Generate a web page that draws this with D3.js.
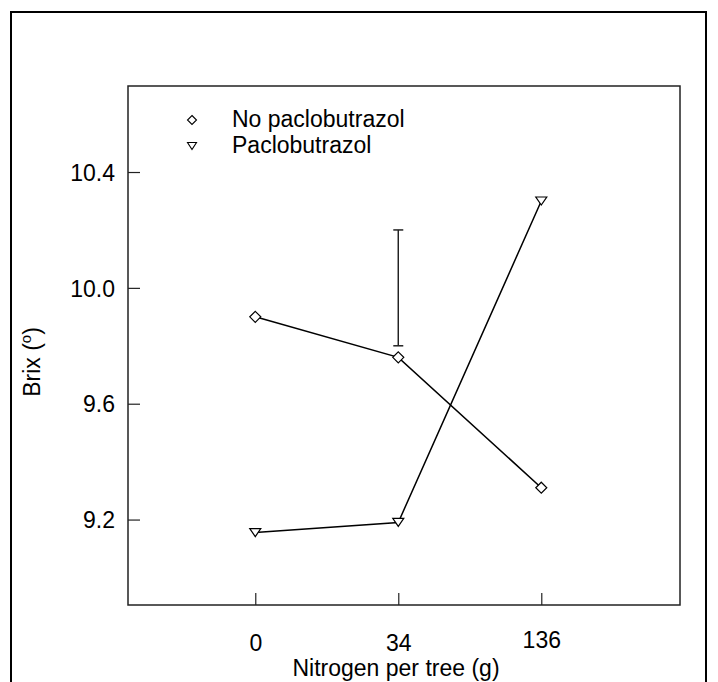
<!DOCTYPE html>
<html>
<head>
<meta charset="utf-8">
<script src="https://cdn.jsdelivr.net/npm/d3@7"></script>
<style>
  body { margin: 0; background: #fff; }
  svg { display: block; }
  text { font-family: "Liberation Sans", Arial, sans-serif; fill: #000; }
</style>
</head>
<body>
<svg id="chart" width="718" height="682"></svg>
<script>
// data
const nitrogen = ['0', '34', '136'];
const noPaclo = [9.90, 9.76, 9.31];
const paclo = [9.155, 9.19, 10.30];
const yTicks = [9.2, 9.6, 10.0, 10.4];
const errBar = {at: 1, center: 10.0, half: 0.2};
const legendNames = ['No paclobutrazol', 'Paclobutrazol'];

const svg = d3.select('#chart');

const box = {left: 128, top: 86, right: 680, bottom: 605};

const x = d3.scaleLinear().domain([-0.89, 2.97]).range([box.left, box.right]);
const y = d3.scaleLinear().domain([8.905, 10.697]).range([box.bottom, box.top]);

// outer frame
svg.append('rect')
  .attr('x', 11).attr('y', 12)
  .attr('width', 695).attr('height', 700)
  .attr('fill', 'none').attr('stroke', '#000').attr('stroke-width', 2);

// plot box
svg.append('rect')
  .attr('x', box.left).attr('y', box.top)
  .attr('width', box.right - box.left).attr('height', box.bottom - box.top)
  .attr('fill', 'none').attr('stroke', '#222').attr('stroke-width', 1.5);

// y axis (ticks inward)
let yAxis = svg.append('g')
  .attr('transform', `translate(${box.left},0)`)
  .call(d3.axisRight(y).tickValues(yTicks).tickSize(12).tickFormat(d3.format('.1f')));
yAxis.select('.domain').remove();
yAxis.selectAll('.tick line').attr('stroke', '#222').attr('stroke-width', 1.2);
yAxis.selectAll('.tick text')
  .attr('x', -13).attr('dy', '0.36em')
  .attr('text-anchor', 'end')
  .attr('font-size', 23).attr('font-family', '"Liberation Sans", Arial, sans-serif');

// x axis (ticks inward)
let xAxis = svg.append('g')
  .attr('transform', `translate(0,${box.bottom})`)
  .call(d3.axisTop(x).tickValues([0, 1, 2]).tickSize(12).tickFormat(i => nitrogen[i]));
xAxis.select('.domain').remove();
xAxis.selectAll('.tick line').attr('stroke', '#222').attr('stroke-width', 1.2);
xAxis.selectAll('.tick text')
  .attr('y', (d, i) => i == 2 ? 43 : 46)
  .attr('dy', 0)
  .attr('font-size', 23).attr('font-family', '"Liberation Sans", Arial, sans-serif');

// axis titles
svg.append('text')
  .attr('x', 396).attr('y', 676)
  .attr('text-anchor', 'middle')
  .attr('font-size', 23)
  .text('Nitrogen per tree (g)');

let yTitle = svg.append('text')
  .attr('transform', 'translate(40,362) rotate(-90)')
  .attr('text-anchor', 'middle')
  .attr('font-size', 23);
yTitle.append('tspan').text('Brix (');
yTitle.append('tspan').attr('font-size', 15).attr('dy', -9).text('o');
yTitle.append('tspan').attr('dy', 9).text(')');

// error bar
let eb = svg.append('g').attr('stroke', '#222').attr('stroke-width', 1.5);
eb.append('line')
  .attr('x1', x(errBar.at)).attr('x2', x(errBar.at))
  .attr('y1', y(errBar.center - errBar.half)).attr('y2', y(errBar.center + errBar.half));
[errBar.center - errBar.half, errBar.center + errBar.half].forEach(v => {
  eb.append('line')
    .attr('x1', x(errBar.at) - 5).attr('x2', x(errBar.at) + 5)
    .attr('y1', y(v)).attr('y2', y(v));
});

// lines
let line = d3.line().x((d, i) => x(i)).y(d => y(d));
[noPaclo, paclo].forEach(s => {
  svg.append('path')
    .attr('d', line(s))
    .attr('fill', 'none').attr('stroke', '#000').attr('stroke-width', 1.5);
});

// markers
const diamondPath = 'M0,-5.5L5.5,0L0,5.5L-5.5,0Z';
const triPath = 'M-5.5,-4L5.5,-4L0,4Z';

svg.selectAll('.dia').data(noPaclo).enter().append('path')
  .attr('class', 'dia')
  .attr('d', diamondPath)
  .attr('transform', (d, i) => `translate(${x(i)},${y(d)})`)
  .attr('fill', '#fff').attr('stroke', '#000').attr('stroke-width', 1.2);

svg.selectAll('.tri').data(paclo).enter().append('path')
  .attr('class', 'tri')
  .attr('d', triPath)
  .attr('transform', (d, i) => `translate(${x(i)},${y(d)})`)
  .attr('fill', '#fff').attr('stroke', '#000').attr('stroke-width', 1.2);

// legend
let legend = svg.append('g');
legendNames.forEach((name, i) => {
  legend.append('path')
    .attr('d', i == 0 ? 'M0,-4.5L4.5,0L0,4.5L-4.5,0Z' : 'M-4.5,-3.5L4.5,-3.5L0,3.5Z')
    .attr('transform', `translate(192,${120 + i * 26})`)
    .attr('fill', '#fff').attr('stroke', '#000').attr('stroke-width', 1.1);
  legend.append('text')
    .attr('x', 232).attr('y', 127 + i * 26)
    .attr('font-size', 23)
    .text(name);
});
</script>
</body>
</html>
